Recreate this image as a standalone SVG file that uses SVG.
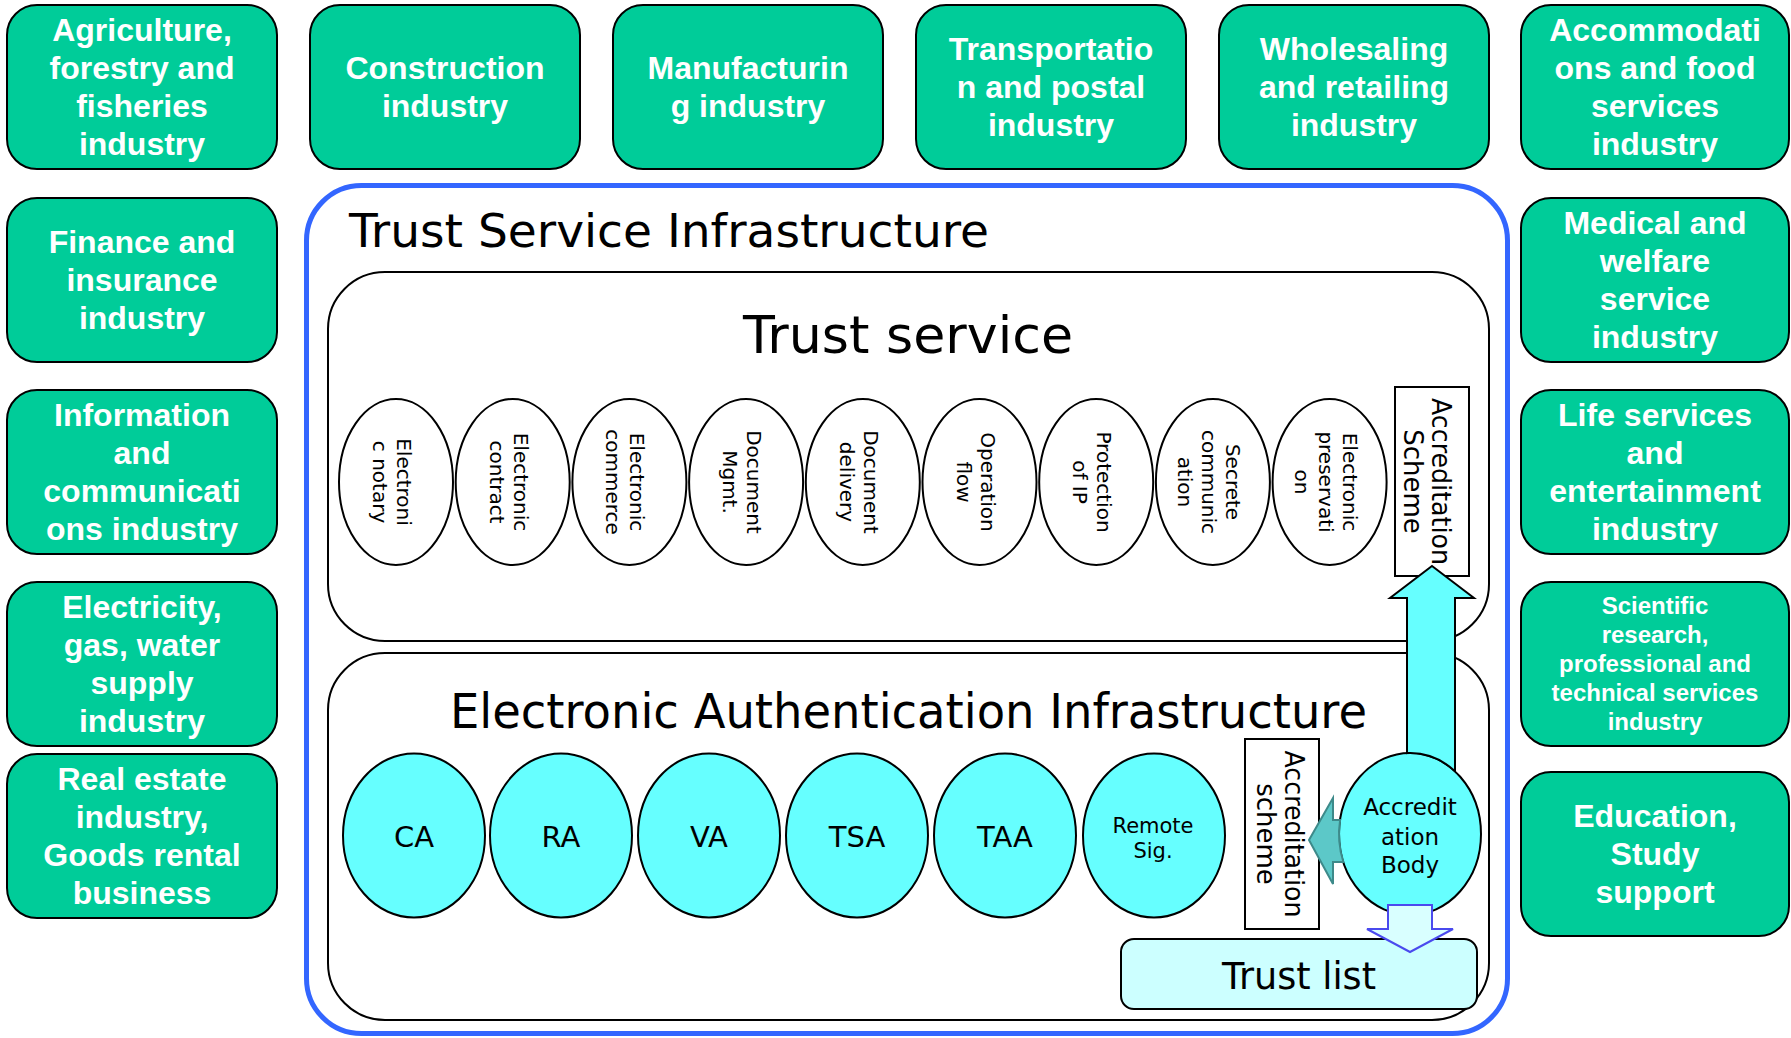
<svg xmlns="http://www.w3.org/2000/svg" width="1791" height="1038" viewBox="0 0 1791 1038">
<style>
.ind rect{fill:#00cc99;stroke:#000;stroke-width:2}
.ind text{font-family:"Liberation Sans",Arial,sans-serif;font-weight:bold;font-size:32px;fill:#fff;text-anchor:middle}
.frame{fill:#fff;stroke:#000;stroke-width:2}
.t{font-family:"DejaVu Sans",Verdana,sans-serif;fill:#000}
.ts ellipse{fill:#fff;stroke:#000;stroke-width:2}
.ts text{font-family:"DejaVu Sans",Verdana,sans-serif;font-size:20px;text-anchor:middle}
.ea ellipse{fill:#66ffff;stroke:#000;stroke-width:2}
.ea text{font-family:"DejaVu Sans",Verdana,sans-serif;text-anchor:middle}
.sch rect{fill:#fff;stroke:#000;stroke-width:2}
.sch text{font-family:"DejaVu Sans",Verdana,sans-serif;font-size:26px;text-anchor:middle}
</style>

<!-- industry boxes -->
<g id="agriculture" class="ind"><rect x="7" y="5" width="270" height="164" rx="30"/><text><tspan x="142" y="41">Agriculture,</tspan><tspan x="142" y="79">forestry and</tspan><tspan x="142" y="117">fisheries</tspan><tspan x="142" y="155">industry</tspan></text></g>
<g id="construction" class="ind"><rect x="310" y="5" width="270" height="164" rx="30"/><text><tspan x="445" y="79">Construction</tspan><tspan x="445" y="117">industry</tspan></text></g>
<g id="manufacturing" class="ind"><rect x="613" y="5" width="270" height="164" rx="30"/><text><tspan x="748" y="79">Manufacturin</tspan><tspan x="748" y="117">g industry</tspan></text></g>
<g id="transportation" class="ind"><rect x="916" y="5" width="270" height="164" rx="30"/><text><tspan x="1051" y="60">Transportatio</tspan><tspan x="1051" y="98">n and postal</tspan><tspan x="1051" y="136">industry</tspan></text></g>
<g id="wholesaling" class="ind"><rect x="1219" y="5" width="270" height="164" rx="30"/><text><tspan x="1354" y="60">Wholesaling</tspan><tspan x="1354" y="98">and retailing</tspan><tspan x="1354" y="136">industry</tspan></text></g>
<g id="accommodations" class="ind"><rect x="1521" y="5" width="268" height="164" rx="30"/><text><tspan x="1655" y="41">Accommodati</tspan><tspan x="1655" y="79">ons and food</tspan><tspan x="1655" y="117">services</tspan><tspan x="1655" y="155">industry</tspan></text></g>

<g id="finance" class="ind"><rect x="7" y="198" width="270" height="164" rx="30"/><text><tspan x="142" y="253">Finance and</tspan><tspan x="142" y="291">insurance</tspan><tspan x="142" y="329">industry</tspan></text></g>
<g id="information" class="ind"><rect x="7" y="390" width="270" height="164" rx="30"/><text><tspan x="142" y="426">Information</tspan><tspan x="142" y="464">and</tspan><tspan x="142" y="502">communicati</tspan><tspan x="142" y="540">ons industry</tspan></text></g>
<g id="electricity" class="ind"><rect x="7" y="582" width="270" height="164" rx="30"/><text><tspan x="142" y="618">Electricity,</tspan><tspan x="142" y="656">gas, water</tspan><tspan x="142" y="694">supply</tspan><tspan x="142" y="732">industry</tspan></text></g>
<g id="realestate" class="ind"><rect x="7" y="754" width="270" height="164" rx="30"/><text><tspan x="142" y="790">Real estate</tspan><tspan x="142" y="828">industry,</tspan><tspan x="142" y="866">Goods rental</tspan><tspan x="142" y="904">business</tspan></text></g>

<g id="medical" class="ind"><rect x="1521" y="198" width="268" height="164" rx="30"/><text><tspan x="1655" y="234">Medical and</tspan><tspan x="1655" y="272">welfare</tspan><tspan x="1655" y="310">service</tspan><tspan x="1655" y="348">industry</tspan></text></g>
<g id="lifeservices" class="ind"><rect x="1521" y="390" width="268" height="164" rx="30"/><text><tspan x="1655" y="426">Life services</tspan><tspan x="1655" y="464">and</tspan><tspan x="1655" y="502">entertainment</tspan><tspan x="1655" y="540">industry</tspan></text></g>
<g id="scientific" class="ind"><rect x="1521" y="582" width="268" height="164" rx="30"/><text style="font-size:24px"><tspan x="1655" y="614">Scientific</tspan><tspan x="1655" y="643">research,</tspan><tspan x="1655" y="672">professional and</tspan><tspan x="1655" y="701">technical services</tspan><tspan x="1655" y="730">industry</tspan></text></g>
<g id="education" class="ind"><rect x="1521" y="772" width="268" height="164" rx="30"/><text><tspan x="1655" y="827">Education,</tspan><tspan x="1655" y="865">Study</tspan><tspan x="1655" y="903">support</tspan></text></g>

<!-- Trust Service Infrastructure container -->
<g id="tsi">
<rect x="306.5" y="185.5" width="1201" height="848" rx="55" fill="#fff" stroke="#3366ff" stroke-width="5"/>
<text class="t" x="349" y="247" font-size="47" textLength="640" lengthAdjust="spacingAndGlyphs">Trust Service Infrastructure</text>
</g>

<g id="trustservice">
<rect class="frame" x="328" y="272" width="1161" height="369" rx="57"/>
<text class="t" x="743" y="353" font-size="52" textLength="330" lengthAdjust="spacingAndGlyphs">Trust service</text>
</g>

<g id="eai">
<rect class="frame" x="328" y="653" width="1161" height="367" rx="57"/>
<text class="t" x="450" y="728" font-size="48" textLength="917" lengthAdjust="spacingAndGlyphs">Electronic Authentication Infrastructure</text>
</g>

<!-- trust services -->
<g id="s-notary" class="ts"><ellipse cx="396" cy="482" rx="57" ry="83"/><g transform="translate(396,482) rotate(90)"><text><tspan x="0" y="-1">Electroni</tspan><tspan x="0" y="23">c notary</tspan></text></g></g>
<g id="s-contract" class="ts"><ellipse cx="512.7" cy="482" rx="57" ry="83"/><g transform="translate(512.7,482) rotate(90)"><text><tspan x="0" y="-1">Electronic</tspan><tspan x="0" y="23">contract</tspan></text></g></g>
<g id="s-commerce" class="ts"><ellipse cx="629.4" cy="482" rx="57" ry="83"/><g transform="translate(629.4,482) rotate(90)"><text><tspan x="0" y="-1">Electronic</tspan><tspan x="0" y="23">commerce</tspan></text></g></g>
<g id="s-docmgmt" class="ts"><ellipse cx="746.1" cy="482" rx="57" ry="83"/><g transform="translate(746.1,482) rotate(90)"><text><tspan x="0" y="-1">Document</tspan><tspan x="0" y="23">Mgmt.</tspan></text></g></g>
<g id="s-docdelivery" class="ts"><ellipse cx="862.8" cy="482" rx="57" ry="83"/><g transform="translate(862.8,482) rotate(90)"><text><tspan x="0" y="-1">Document</tspan><tspan x="0" y="23">delivery</tspan></text></g></g>
<g id="s-opflow" class="ts"><ellipse cx="979.5" cy="482" rx="57" ry="83"/><g transform="translate(979.5,482) rotate(90)"><text><tspan x="0" y="-1">Operation</tspan><tspan x="0" y="23">flow</tspan></text></g></g>
<g id="s-ip" class="ts"><ellipse cx="1096.2" cy="482" rx="57" ry="83"/><g transform="translate(1096.2,482) rotate(90)"><text><tspan x="0" y="-1">Protection</tspan><tspan x="0" y="23">of IP</tspan></text></g></g>
<g id="s-secrete" class="ts"><ellipse cx="1212.9" cy="482" rx="57" ry="83"/><g transform="translate(1212.9,482) rotate(90)"><text><tspan x="0" y="-13">Secrete</tspan><tspan x="0" y="11">communic</tspan><tspan x="0" y="35">ation</tspan></text></g></g>
<g id="s-preservation" class="ts"><ellipse cx="1329.6" cy="482" rx="57" ry="83"/><g transform="translate(1329.6,482) rotate(90)"><text><tspan x="0" y="-13">Electronic</tspan><tspan x="0" y="11">preservati</tspan><tspan x="0" y="35">on</tspan></text></g></g>

<g id="scheme-top" class="sch"><rect x="1395" y="387" width="74" height="189"/><g transform="translate(1432,481.5) rotate(90)"><text><tspan x="0" y="0" textLength="167" lengthAdjust="spacingAndGlyphs">Accreditation</tspan><tspan x="0" y="28">Scheme</tspan></text></g></g>

<!-- electronic authentication components -->
<g id="ca" class="ea"><ellipse cx="414" cy="835.5" rx="71" ry="82"/><text x="414" y="847" font-size="29">CA</text></g>
<g id="ra" class="ea"><ellipse cx="561" cy="835.5" rx="71" ry="82"/><text x="561" y="847" font-size="29">RA</text></g>
<g id="va" class="ea"><ellipse cx="709" cy="835.5" rx="71" ry="82"/><text x="709" y="847" font-size="29">VA</text></g>
<g id="tsa" class="ea"><ellipse cx="857" cy="835.5" rx="71" ry="82"/><text x="857" y="847" font-size="29">TSA</text></g>
<g id="taa" class="ea"><ellipse cx="1005" cy="835.5" rx="71" ry="82"/><text x="1005" y="847" font-size="29">TAA</text></g>
<g id="remotesig" class="ea"><ellipse cx="1154" cy="835.5" rx="71" ry="82"/><text font-size="21"><tspan x="1153" y="833">Remote</tspan><tspan x="1153" y="858">Sig.</tspan></text></g>

<g id="scheme-bottom" class="sch"><rect x="1245" y="739" width="74" height="190"/><g transform="translate(1282,834) rotate(90)"><text><tspan x="0" y="-3" textLength="167" lengthAdjust="spacingAndGlyphs">Accreditation</tspan><tspan x="0" y="25">scheme</tspan></text></g></g>

<g id="accbody" class="ea"><ellipse cx="1410" cy="834" rx="71" ry="81"/><text font-size="23"><tspan x="1410" y="815">Accredit</tspan><tspan x="1410" y="845">ation</tspan><tspan x="1410" y="873">Body</tspan></text></g>

<g id="trustlist"><rect x="1121" y="939" width="356" height="70" rx="13" fill="#ccffff" stroke="#000" stroke-width="2"/><text class="t" x="1299" y="989" font-size="37" text-anchor="middle" textLength="154" lengthAdjust="spacingAndGlyphs">Trust list</text></g>

<!-- connectors -->
<g id="connectors" stroke-width="2" stroke-linejoin="miter">
<path d="M1432,566 L1474,598 L1455,598 L1455,771.3 A71,81 0 0,0 1407,753.1 L1407,598 L1390,598 Z" fill="#66ffff" stroke="#000"/>
<path d="M1309,840 L1333,798 L1333,820 L1340.1,820 A71,81 0 0,0 1343.4,862 L1333,862 L1333,884 Z" fill="#5cc8c8" stroke="#3d8a8a"/>
<path d="M1388,905 L1432,905 L1432,929 L1453,929 L1410,952 L1367,929 L1388,929 Z" fill="#d9ffff" stroke="#4a4aee"/>
</g>
</svg>
